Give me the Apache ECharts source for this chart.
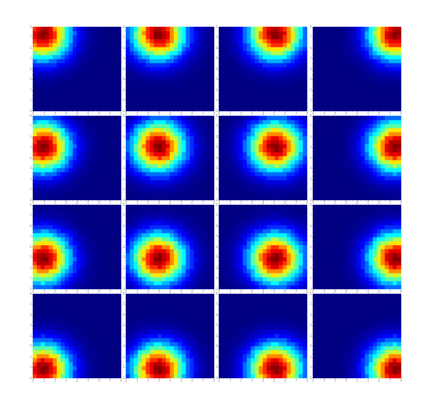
<!DOCTYPE html>
<html><head><meta charset="utf-8">
<script src="https://cdn.jsdelivr.net/npm/echarts@6/dist/echarts.min.js"></script>
<style>html,body{margin:0;padding:0;background:#fff}#c{width:437px;height:403px}</style>
</head><body><div id="c"></div>
<script>
// tick values on each panel's axes
const axisTicks = [0, 1, 2, 3, 4, 5, 6, 7, 8];
// blob centre read for each panel column (x) and row (y), in axis units
const blobX = [0.95, 3.0, 5.15, 7.5];
const blobY = [7.3, 5.1, 2.93, 0.88];
// radial intensity, every 0.25 axis units from the centre
const profileStep = 0.25;
const profile = [1.00, 0.99, 0.95, 0.90, 0.83, 0.74, 0.65, 0.55, 0.46, 0.37, 0.30, 0.23,
                 0.17, 0.13, 0.09, 0.065, 0.045, 0.03, 0.02, 0.012, 0.008, 0.004, 0.002, 0];
const jet = ['#000080', '#0000ff', '#0080ff', '#00ffff', '#80ff80', '#ffff00', '#ff8000', '#ff0000', '#800000'];

const NX = 22, NY = 21;
const span = axisTicks[axisTicks.length - 1] - axisTicks[0];
const catsX = [], catsY = [];
for (let i = 0; i < NX; i++) catsX.push(i);
for (let j = 0; j < NY; j++) catsY.push(j);

const lefts = [33, 126, 219, 313];
const tops = [27, 116, 205, 294];
const W = 88, H = 84;

const grid = [], xAxis = [], yAxis = [], series = [];
const lblStyle = { fontSize: 3, color: '#999', margin: 1.5 };
const tickStyle = { show: true, length: 1.5, lineStyle: { color: '#aaa', width: 0.5 } };
for (let r = 0; r < 4; r++) {
  for (let c = 0; c < 4; c++) {
    const k = r * 4 + c;
    grid.push({ left: lefts[c], top: tops[r], width: W, height: H });
    xAxis.push({ type: 'category', gridIndex: k, data: catsX, show: false, position: 'bottom' });
    xAxis.push({ type: 'value', gridIndex: k, min: axisTicks[0], max: axisTicks[axisTicks.length - 1], interval: 1,
      position: 'bottom', axisLine: { show: false, onZero: false }, splitLine: { show: false },
      axisTick: tickStyle, axisLabel: lblStyle });
    yAxis.push({ type: 'category', gridIndex: k, data: catsY, show: false, position: 'left' });
    yAxis.push({ type: 'value', gridIndex: k, min: axisTicks[0], max: axisTicks[axisTicks.length - 1], interval: 1,
      position: 'left', axisLine: { show: false, onZero: false }, splitLine: { show: false },
      axisTick: tickStyle, axisLabel: lblStyle });
    const data = [];
    for (let i = 0; i < NX; i++) {
      for (let j = 0; j < NY; j++) {
        const x = (i + 0.5) * span / NX, y = (j + 0.5) * span / NY;
        const d = Math.hypot(x - blobX[c], y - blobY[r]);
        const idx = Math.round(d / profileStep);
        const v = idx < profile.length ? profile[idx] : 0;
        data.push([i, j, v]);
      }
    }
    series.push({ type: 'heatmap', xAxisIndex: 2 * k, yAxisIndex: 2 * k, data: data,
      itemStyle: { borderWidth: 0 }, emphasis: { disabled: true }, progressive: 0, animation: false });
  }
}

const chart = echarts.init(document.getElementById('c'), null, { renderer: 'canvas' });
chart.setOption({
  backgroundColor: '#fff',
  animation: false,
  grid, xAxis, yAxis, series,
  visualMap: { type: 'continuous', min: 0, max: 1, show: false, inRange: { color: jet } }
});
</script></body></html>
